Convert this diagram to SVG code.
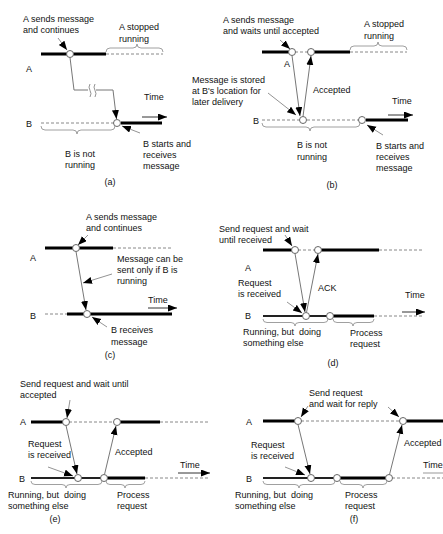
<svg xmlns="http://www.w3.org/2000/svg" width="443" height="534" viewBox="0 0 443 534">
  <style>
    text { font-family: "Liberation Sans", Arial, sans-serif; font-size: 9px; fill: #111; white-space: pre; }
    .thick { stroke: #000; stroke-width: 3; fill: none; }
    .mid { stroke: #222; stroke-width: 1.8; fill: none; }
    .dash { stroke: #888; stroke-width: 1; stroke-dasharray: 3 2; fill: none; }
    .msg { stroke: #777; stroke-width: 1; fill: none; marker-end: url(#head); }
    .ptr { stroke: #777; stroke-width: 0.8; fill: none; marker-end: url(#head); }
    .time { stroke: #333; stroke-width: 1; fill: none; marker-end: url(#head); }
    .brace { stroke: #888; stroke-width: 0.8; fill: none; }
    .ev { fill: #fff; stroke: #666; stroke-width: 1; }
    .cap { text-anchor: middle; }
  </style>
  <defs>
    <marker id="head" markerUnits="userSpaceOnUse" markerWidth="10" markerHeight="8" refX="9" refY="3.5" orient="auto">
      <path d="M0,0 L9,3.5 L0,7 z" fill="#000"/>
    </marker>
  </defs>

  <rect width="443" height="534" fill="#fff"/>

  <!-- (a) transient asynchronous communication -->
  <g id="panel-a">
    <g id="a-timeline-A">
      <text x="26" y="72">A</text>
      <line class="thick" x1="41" y1="54" x2="106" y2="54"/>
      <line class="dash" x1="106" y1="54" x2="163" y2="54"/>
      <path class="brace" d="M106,52 q0,-4 4,-4 H133 q4,0 4,-4 q0,4 4,4 H159 q4,0 4,4"/>
      <circle class="ev" cx="70" cy="54" r="3.5"/>
    </g>
    <g id="a-timeline-B">
      <text x="26" y="127">B</text>
      <line class="dash" x1="41" y1="123" x2="114" y2="123"/>
      <line class="thick" x1="121" y1="123" x2="162" y2="123"/>
      <path class="brace" d="M41,126 q0,4 4,4 H73 q4,0 4,4 q0,-4 4,-4 H111 q4,0 4,-4"/>
      <circle class="ev" cx="117" cy="123" r="3.5"/>
    </g>
    <g id="a-connectors">
      <path class="ptr" d="M58,38 L67,50"/>
      <polyline points="70,57.5 74,90 88,90" stroke="#777" stroke-width="1" fill="none"/>
      <path class="msg" d="M96,90 H113 L116.5,119"/>
      <path d="M90,84 q-2,3 0,6.5 q2,3 0,6.5 M95,84 q-2,3 0,6.5 q2,3 0,6.5" stroke="#777" stroke-width="0.8" fill="none"/>
      <path class="ptr" d="M140,133 L122,126"/>
      <path class="time" d="M142,117 H167"/>
    </g>
    <text x="23" y="22">A sends message</text>
    <text x="23" y="33">and continues</text>
    <text x="119" y="30">A stopped</text>
    <text x="119" y="42">running</text>
    <text x="144" y="100">Time</text>
    <text x="65" y="157">B is not</text>
    <text x="65" y="168">running</text>
    <text x="143" y="147">B starts and</text>
    <text x="143" y="158">receives</text>
    <text x="143" y="169">message</text>
    <text class="cap" x="110" y="185">(a)</text>
  </g>

  <!-- (b) receipt-based transient synchronous communication with storage -->
  <g id="panel-b">
    <g id="b-timeline-A">
      <text x="284" y="67">A</text>
      <line class="thick" x1="262" y1="52" x2="290" y2="52"/>
      <line class="dash" x1="295" y1="52" x2="308" y2="52"/>
      <line class="thick" x1="314" y1="52" x2="350" y2="52"/>
      <line class="dash" x1="350" y1="52" x2="407" y2="52"/>
      <path class="brace" d="M350,50 q0,-4 4,-4 H374 q4,0 4,-4 q0,4 4,4 H403 q4,0 4,4"/>
      <circle class="ev" cx="292" cy="52" r="3.5"/>
      <circle class="ev" cx="311" cy="52" r="3.5"/>
    </g>
    <g id="b-timeline-B">
      <text x="253" y="124">B</text>
      <line class="dash" x1="262" y1="120" x2="359" y2="120"/>
      <line class="thick" x1="366" y1="120" x2="408" y2="120"/>
      <path class="brace" d="M262,123 q0,4 4,4 H306 q4,0 4,4 q0,-4 4,-4 H356 q4,0 4,-4"/>
      <circle class="ev" cx="303" cy="120" r="3.5"/>
      <circle class="ev" cx="362" cy="120" r="3.5"/>
    </g>
    <g id="b-connectors">
      <path class="ptr" d="M280,40 L290,49"/>
      <path class="msg" d="M292,55.5 L300,116"/>
      <path class="msg" d="M303,116.5 L311,56"/>
      <path class="ptr" d="M268,93 L296,115"/>
      <path class="ptr" d="M383,135 L367,125"/>
      <path class="time" d="M388,115 H413"/>
    </g>
    <text x="223" y="23">A sends message</text>
    <text x="223" y="34">and waits until accepted</text>
    <text x="364" y="27">A stopped</text>
    <text x="364" y="39">running</text>
    <text x="192" y="83">Message is stored</text>
    <text x="192" y="94">at B's location for</text>
    <text x="192" y="105">later delivery</text>
    <text x="313" y="93">Accepted</text>
    <text x="392" y="104">Time</text>
    <text x="297" y="148">B is not</text>
    <text x="297" y="160">running</text>
    <text x="376" y="149">B starts and</text>
    <text x="376" y="160">receives</text>
    <text x="376" y="171">message</text>
    <text class="cap" x="332" y="188">(b)</text>
  </g>

  <!-- (c) transient asynchronous, receiver running -->
  <g id="panel-c">
    <g id="c-timeline-A">
      <text x="30" y="261">A</text>
      <line class="thick" x1="45" y1="248" x2="113" y2="248"/>
      <line class="dash" x1="113" y1="248" x2="172" y2="248"/>
      <circle class="ev" cx="76" cy="248" r="3.5"/>
    </g>
    <g id="c-timeline-B">
      <text x="30" y="319">B</text>
      <line class="dash" x1="45" y1="314" x2="67" y2="314"/>
      <line class="thick" x1="67" y1="314" x2="172" y2="314"/>
      <circle class="ev" cx="87" cy="314" r="3.5"/>
    </g>
    <g id="c-connectors">
      <path class="ptr" d="M88,235 L78,245"/>
      <path class="msg" d="M76,251.5 L86,310"/>
      <path class="ptr" d="M112,274 L83,283"/>
      <path class="ptr" d="M107,327 L92,317"/>
      <path class="time" d="M148,308 H177"/>
    </g>
    <text x="86" y="220">A sends message</text>
    <text x="86" y="231">and continues</text>
    <text x="117" y="262">Message can be</text>
    <text x="117" y="273">sent only if B is</text>
    <text x="117" y="284">running</text>
    <text x="148" y="303">Time</text>
    <text x="111" y="333">B receives</text>
    <text x="111" y="345">message</text>
    <text class="cap" x="110" y="358">(c)</text>
  </g>

  <!-- (d) receipt-based transient synchronous communication -->
  <g id="panel-d">
    <g id="d-timeline-A">
      <text x="245" y="271">A</text>
      <line class="thick" x1="263" y1="250" x2="292" y2="250"/>
      <line class="dash" x1="298" y1="250" x2="315" y2="250"/>
      <line class="thick" x1="321" y1="250" x2="379" y2="250"/>
      <line class="dash" x1="379" y1="250" x2="422" y2="250"/>
      <circle class="ev" cx="295" cy="250" r="3.5"/>
      <circle class="ev" cx="318" cy="250" r="3.5"/>
    </g>
    <g id="d-timeline-B">
      <text x="245" y="319">B</text>
      <line class="mid" x1="263" y1="316" x2="327" y2="316"/>
      <line class="thick" x1="333" y1="316" x2="374" y2="316"/>
      <line class="dash" x1="374" y1="316" x2="423" y2="316"/>
      <path class="brace" d="M263,319 q0,3.5 4,3.5 H291 q4,0 4,3.5 q0,-3.5 4,-3.5 H324 q4,0 4,-3.5"/>
      <path class="brace" d="M333,319 q0,3.5 4,3.5 H349 q4,0 4,3.5 q0,-3.5 4,-3.5 H370 q4,0 4,-3.5"/>
      <circle class="ev" cx="306" cy="316" r="3.5"/>
      <circle class="ev" cx="330" cy="316" r="3.5"/>
    </g>
    <g id="d-connectors">
      <path class="ptr" d="M285,235 L292,246"/>
      <path class="msg" d="M295,253.5 L305,312"/>
      <path class="msg" d="M306.5,312.5 L318,254"/>
      <path class="ptr" d="M287,302 L302,313"/>
      <path class="time" d="M402,312 H425"/>
    </g>
    <text x="219" y="232">Send request and wait</text>
    <text x="219" y="243">until received</text>
    <text x="318" y="291">ACK</text>
    <text x="238" y="286">Request</text>
    <text x="238" y="297">is received</text>
    <text x="405" y="298">Time</text>
    <text x="243" y="335">Running, but  doing</text>
    <text x="243" y="346">something else</text>
    <text x="350" y="336">Process</text>
    <text x="350" y="347">request</text>
    <text class="cap" x="333" y="366">(d)</text>
  </g>

  <!-- (e) delivery-based transient synchronous communication -->
  <g id="panel-e">
    <g id="e-timeline-A">
      <text x="20" y="425">A</text>
      <line class="thick" x1="31" y1="422" x2="63" y2="422"/>
      <line class="dash" x1="69" y1="422" x2="114" y2="422"/>
      <line class="thick" x1="120" y1="422" x2="160" y2="422"/>
      <line class="dash" x1="160" y1="422" x2="208" y2="422"/>
      <circle class="ev" cx="66" cy="422" r="3.5"/>
      <circle class="ev" cx="117" cy="422" r="3.5"/>
    </g>
    <g id="e-timeline-B">
      <text x="19" y="482">B</text>
      <line class="mid" x1="31" y1="478" x2="101" y2="478"/>
      <line class="thick" x1="107" y1="478" x2="145" y2="478"/>
      <line class="dash" x1="145" y1="478" x2="208" y2="478"/>
      <path class="brace" d="M31,481 q0,3.5 4,3.5 H62 q4,0 4,3.5 q0,-3.5 4,-3.5 H98 q4,0 4,-3.5"/>
      <path class="brace" d="M106,481 q0,3.5 4,3.5 H121 q4,0 4,3.5 q0,-3.5 4,-3.5 H141 q4,0 4,-3.5"/>
      <circle class="ev" cx="78" cy="478" r="3.5"/>
      <circle class="ev" cx="104" cy="478" r="3.5"/>
    </g>
    <g id="e-connectors">
      <path class="ptr" d="M70,400 L67,418"/>
      <path class="msg" d="M66,425.5 L77,474"/>
      <path class="msg" d="M104.5,474.5 L116,426"/>
      <path class="ptr" d="M48,467 L73,476"/>
      <path class="time" d="M178,473 H210"/>
    </g>
    <text x="20" y="387">Send request and wait until</text>
    <text x="20" y="398">accepted</text>
    <text x="28" y="447">Request</text>
    <text x="28" y="458">is received</text>
    <text x="115" y="455">Accepted</text>
    <text x="180" y="468">Time</text>
    <text x="8" y="498">Running, but  doing</text>
    <text x="8" y="509">something else</text>
    <text x="117" y="498">Process</text>
    <text x="117" y="509">request</text>
    <text class="cap" x="55" y="522">(e)</text>
  </g>

  <!-- (f) response-based transient synchronous communication -->
  <g id="panel-f">
    <g id="f-timeline-A">
      <text x="246" y="425">A</text>
      <line class="thick" x1="263" y1="421" x2="295" y2="421"/>
      <line class="dash" x1="301" y1="421" x2="400" y2="421"/>
      <line class="thick" x1="406" y1="421" x2="443" y2="421"/>
      <circle class="ev" cx="298" cy="421" r="3.5"/>
      <circle class="ev" cx="403" cy="421" r="3.5"/>
    </g>
    <g id="f-timeline-B">
      <text x="246" y="482">B</text>
      <line class="mid" x1="263" y1="478" x2="334" y2="478"/>
      <line class="thick" x1="340" y1="478" x2="386" y2="478"/>
      <line class="dash" x1="392" y1="478" x2="443" y2="478"/>
      <path class="brace" d="M263,481 q0,3.5 4,3.5 H295 q4,0 4,3.5 q0,-3.5 4,-3.5 H331 q4,0 4,-3.5"/>
      <path class="brace" d="M340,481 q0,3.5 4,3.5 H359 q4,0 4,3.5 q0,-3.5 4,-3.5 H383 q4,0 4,-3.5"/>
      <circle class="ev" cx="311" cy="478" r="3.5"/>
      <circle class="ev" cx="337" cy="478" r="3.5"/>
      <circle class="ev" cx="389" cy="478" r="3.5"/>
    </g>
    <g id="f-connectors">
      <path class="ptr" d="M308,406 L301,417"/>
      <path class="ptr" d="M388,407 L399,417"/>
      <path class="msg" d="M298,424.5 L310,474"/>
      <path class="msg" d="M389.5,474.5 L402,425"/>
      <path class="ptr" d="M285,467 L305,475"/>
      <line x1="423" y1="473" x2="443" y2="473" stroke="#999" stroke-width="1"/>
    </g>
    <text x="309" y="396">Send request</text>
    <text x="309" y="407">and wait for reply</text>
    <text x="404" y="446">Accepted</text>
    <text x="423" y="468">Time</text>
    <text x="251" y="448">Request</text>
    <text x="251" y="459">is received</text>
    <text x="235" y="498">Running, but  doing</text>
    <text x="235" y="509">something else</text>
    <text x="345" y="498">Process</text>
    <text x="345" y="509">request</text>
    <text class="cap" x="354" y="522">(f)</text>
  </g>
</svg>
